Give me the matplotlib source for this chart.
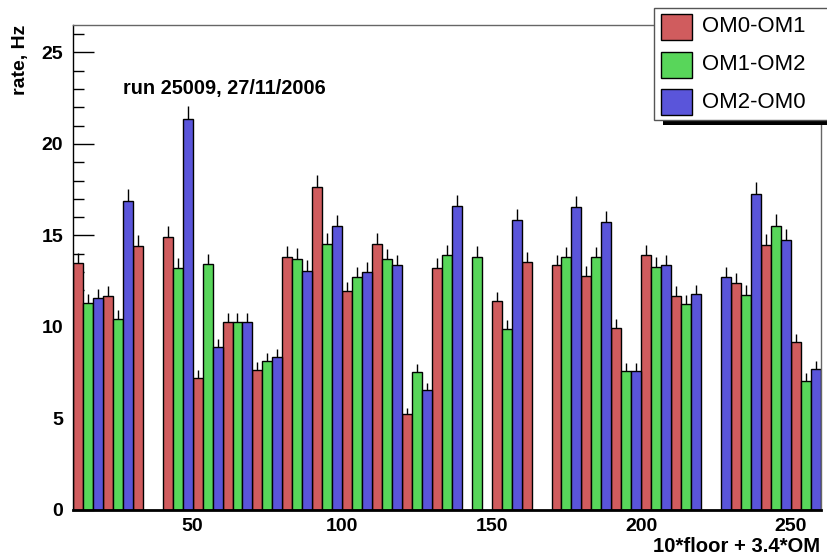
import numpy as np
import matplotlib
matplotlib.use("Agg")
import matplotlib.pyplot as plt
from matplotlib.patches import Rectangle

plt.rcParams['font.family'] = ['Liberation Sans', 'DejaVu Sans']

# Coincidence rates per storey (floor 1..25) for the three OM pairs, Hz
floors = list(range(1, 26))
rate_om0_om1 = [13.48, 11.69, 14.44, 14.94, 7.23, 10.29, 7.65, 13.83, 17.63, 11.95,
                14.52, 5.22, 13.22, None, 11.40, 13.53, 13.37, 12.77, 9.93, 13.93,
                11.71, None, 12.39, 14.50, 9.16]
rate_om1_om2 = [11.29, 10.42, None, 13.21, 13.44, 10.29, 8.14, 13.72, 14.54, 12.71,
                13.70, 7.54, 13.93, 13.83, 9.87, None, 13.81, 13.81, 7.58, 13.26,
                11.24, None, 11.75, 15.54, 7.07]
rate_om2_om0 = [11.57, 16.90, None, 21.38, 8.91, 10.26, 8.34, 13.08, 15.50, 13.01,
                13.37, 6.54, 16.59, None, 15.85, None, 16.54, 15.74, 7.58, 13.39,
                11.79, 12.75, 17.27, 14.74, 7.72]

series_labels = ["OM0-OM1", "OM1-OM2", "OM2-OM0"]
series_colors = ["#D05C5E", "#58D65A", "#5A55DA"]
live_time = 42.0  # s, Poisson errors on the rates

x_min, x_max, n_bins = 10.0, 260.0, 75
bin_w = (x_max - x_min) / n_bins

fig = plt.figure(figsize=(8.28, 5.60), dpi=100)
ax = fig.add_axes([73 / 828, 50 / 560, (820.7 - 73) / 828, 485 / 560])

for k, (rates, col) in enumerate(zip([rate_om0_om1, rate_om1_om2, rate_om2_om0], series_colors)):
    fl = np.array([f for f, r in zip(floors, rates) if r is not None], dtype=float)
    val = np.array([r for r in rates if r is not None], dtype=float)
    xpos = 10 * fl + 3.4 * k
    left = x_min + np.floor((xpos - x_min) / bin_w) * bin_w
    err = np.sqrt(val / live_time)
    ax.vlines(left + bin_w / 2, val, val + err, color='black', lw=1.0, zorder=2)
    ax.bar(left, val, width=bin_w, align='edge', color=col,
           edgecolor='black', linewidth=1.0, zorder=3)

ax.set_xlim(x_min, x_max)
ax.set_ylim(0, 26.5)

ax.set_xticks([50, 100, 150, 200, 250])
ax.set_yticks([0, 5, 10, 15, 20, 25])
ax.set_yticks(np.arange(0, 27, 1), minor=True)
ax.tick_params(axis='x', length=0, pad=6, labelsize=14)
ax.tick_params(axis='y', which='major', direction='in', length=15, width=1.0,
               pad=7, labelsize=14)
ax.tick_params(axis='y', which='minor', direction='in', length=8, width=1.0)
for lab in ax.get_xticklabels() + ax.get_yticklabels():
    lab.set_fontweight('bold')
ax.set_axisbelow(False)

ax.spines['bottom'].set_linewidth(2.0)
ax.spines['left'].set_linewidth(1.0)
ax.spines['top'].set_color('#666666')
ax.spines['right'].set_color('#666666')
ax.spines['top'].set_linewidth(1.0)
ax.spines['right'].set_linewidth(1.0)
for s in ax.spines.values():
    s.set_zorder(5)

fig.text(820 / 828, 1 - 547 / 560, "10*floor + 3.4*OM", ha='right', va='center',
         fontsize=14.6, fontweight='bold')
fig.text(21 / 828, 1 - 25 / 560, "rate, Hz", rotation=90, ha='center', va='top',
         fontsize=14, fontweight='bold')
fig.text(123 / 828, 1 - 88.5 / 560, "run 25009, 27/11/2006", ha='left', va='center',
         fontsize=14.3, fontweight='bold')

# Legend box with drop shadow, drawn in figure pixels
W, H = 828.0, 560.0
def fx(px):
    return px / W
def fy(py):
    return 1 - py / H

shadow = Rectangle((fx(663), fy(125)), fx(828) - fx(663), 5 / H,
                   transform=fig.transFigure, facecolor='black', edgecolor='none', zorder=10)
fig.patches.append(shadow)
box = Rectangle((fx(654.5), fy(120)), fx(840) - fx(654.5), 112 / H,
                transform=fig.transFigure, facecolor='white', edgecolor='#555555',
                linewidth=1.0, zorder=11)
fig.patches.append(box)
for i, (lab, col) in enumerate(zip(series_labels, series_colors)):
    yc = 27 + i * 37.5
    sw = Rectangle((fx(661), fy(yc + 13)), 31 / W, 26 / H, transform=fig.transFigure,
                   facecolor=col, edgecolor='black', linewidth=1.0, zorder=12)
    fig.patches.append(sw)
    fig.text(fx(702), fy(yc), lab, ha='left', va='center', fontsize=15.9, zorder=13)

fig.savefig("out.png", dpi=100)
